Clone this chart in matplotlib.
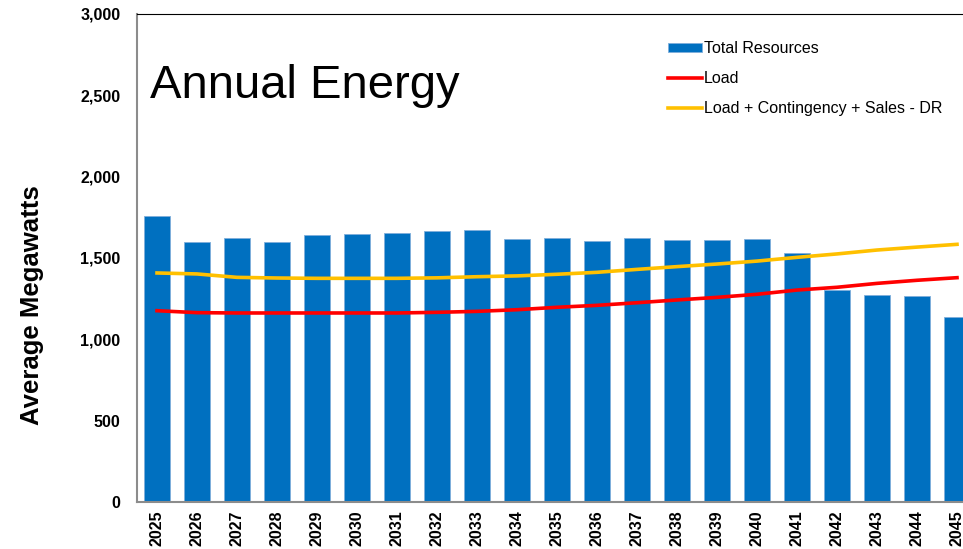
import matplotlib.pyplot as plt

plt.rcParams['font.family'] = ['Liberation Sans', 'DejaVu Sans']

# data
years = [str(y) for y in range(2025, 2046)]
total_resources = [1758, 1598, 1621, 1600, 1643, 1648, 1654, 1666, 1670, 1615, 1621,
                   1604, 1625, 1611, 1611, 1617, 1529, 1305, 1271, 1269, 1135]
load = [1176, 1164, 1162, 1162, 1162, 1162, 1162, 1166, 1172, 1182, 1197,
        1209, 1225, 1242, 1258, 1277, 1303, 1320, 1344, 1363, 1379]
load_plus = [1408, 1402, 1381, 1377, 1375, 1375, 1375, 1378, 1385, 1390, 1400,
             1412, 1430, 1447, 1463, 1481, 1504, 1525, 1549, 1567, 1584]
yticks = [0, 500, 1000, 1500, 2000, 2500, 3000]

fig = plt.figure(figsize=(9.63, 5.49), dpi=100)
# axes runs past the right edge of the figure, as in the screenshot
ax = fig.add_axes([137 / 963, 47 / 549, 840 / 963, 488 / 549])

x = list(range(len(years)))
bars = ax.bar(x, total_resources, width=0.67, color='#0070C0', edgecolor='#7FAEDB',
              linewidth=0.6, label='Total Resources', zorder=2)
l1, = ax.plot(x, load, color='#FF0000', lw=2.6, label='Load', zorder=3)
l2, = ax.plot(x, load_plus, color='#FFC000', lw=2.6,
              label='Load + Contingency + Sales - DR', zorder=3)

ax.set_xlim(-0.5, len(years) - 0.5)
ax.set_ylim(0, 3000)
ax.set_yticks(yticks)
ax.set_yticklabels([f'{v:,}' for v in yticks], fontsize=11.5, fontweight='bold')
ax.set_xticks(x)
ax.set_xticklabels(years, rotation=90, fontsize=11.5, fontweight='bold')
ax.tick_params(axis='y', length=0, pad=12)
ax.tick_params(axis='x', length=0, pad=6)

for s in ['left', 'bottom']:
    ax.spines[s].set_color('#8C8C8C')
    ax.spines[s].set_linewidth(1.5)
ax.spines['top'].set_color('black')
ax.spines['top'].set_linewidth(0.8)
ax.spines['right'].set_visible(False)

fig.text(150 / 963, 1 - 86 / 549, 'Annual Energy', fontsize=34, va='center', ha='left')
fig.text(32 / 963, 1 - 305 / 549, 'Average Megawatts', fontsize=18.5, fontweight='bold',
         rotation=90, va='center', ha='center')

ax.legend([bars, l1, l2], ['Total Resources', 'Load', 'Load + Contingency + Sales - DR'],
          loc='upper left', bbox_to_anchor=(668 / 963, 1 - 41 / 549),
          bbox_transform=fig.transFigure, frameon=False, fontsize=11.5,
          handlelength=2.1, handleheight=0.5, handletextpad=0.15, labelspacing=0.95,
          borderpad=0, borderaxespad=0)

fig.savefig('out.png', dpi=100)
